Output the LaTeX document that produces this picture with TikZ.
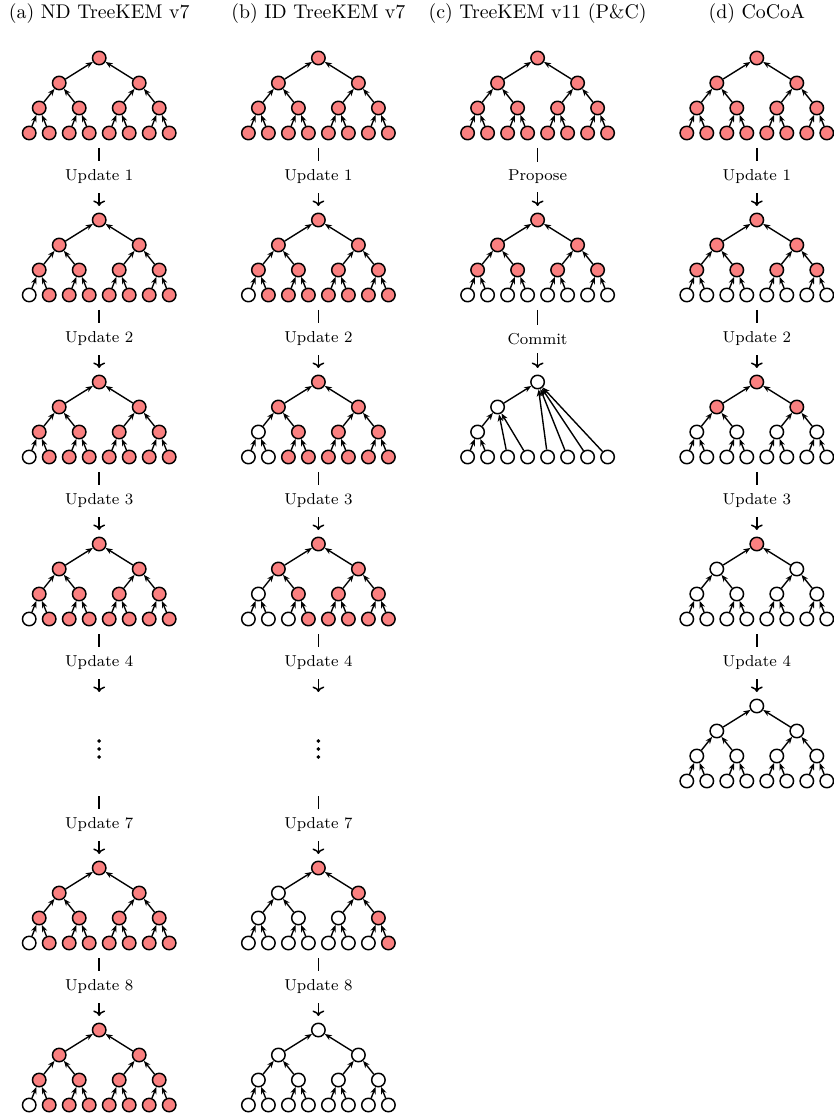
\documentclass[tikz,border=0pt]{standalone}
\usetikzlibrary{arrows.meta}
\definecolor{nodered}{RGB}{250,128,128}
\tikzset{
  tn/.style={circle, draw, line width=0.75pt, minimum size=6.8pt, inner sep=0pt},
  ed/.style={line width=0.7pt, -{Stealth[length=3.6pt,width=2.8pt]}},
  upd/.style={line width=0.75pt, -{To[length=2.8pt,width=6pt]}},
  lbl/.style={fill=white, font=\footnotesize, inner xsep=2pt, inner ysep=4.3pt},
  ttl/.style={font=\normalsize, inner sep=0pt},
  dotnode/.style={inner sep=0pt, minimum size=0pt},
}
\newcommand{\kemtree}[4]{%
  \foreach \i/\dx/\dy in {1/0/0,2/-40/25,3/40/25,4/-60/50,5/-20/50,6/20/50,7/60/50,8/-70/75,9/-50/75,10/-30/75,11/-10/75,12/10/75,13/30/75,14/50/75,15/70/75}{
    \pgfmathtruncatemacro\st{{#4}[\i-1]}
    \ifnum\st=1 \def\fc{nodered}\else\def\fc{white}\fi
    \node[tn, fill=\fc] (#1-\i) at (#2+\dx, #3+\dy) {};
  }
  \foreach \i in {2,...,15}{
    \pgfmathtruncatemacro\p{\i/2}
    \draw[ed] (#1-\i) -- (#1-\p);
  }
  \coordinate (#1-top) at (#2, #3-14);
  \coordinate (#1-bot) at (#2, #3+90);
}
\newcommand{\vdotsat}[3]{% name, x, y
  \node[dotnode] (#1) at (#2,#3) {};
  \foreach \o in {-8,0,8}{\fill ([yshift=-\o*0.505pt]#1) circle (1.0pt);}
  \coordinate (#1-top) at (#2,692);
  \coordinate (#1-bot) at (#2,796);
}
\begin{document}
\begin{tikzpicture}[x=0.505pt, y=-0.505pt]
\useasboundingbox (0,0) rectangle (833,1114);
% titles
\node[ttl] (ta) at (99.2,14) {(a) ND TreeKEM v7};
\node[ttl] (tb) at (318.4,14) {(b) ID TreeKEM v7};
\node[ttl] (tc) at (537.6,14) {(c) TreeKEM v11 (P\&C)};
\node[ttl] (td) at (756.8,14) {(d) CoCoA};

% ---------- column a ----------
\kemtree{a0}{99.2}{58}{1,1,1,1,1,1,1,1,1,1,1,1,1,1,1}
\kemtree{a1}{99.2}{220}{1,1,1,1,1,1,1,0,1,1,1,1,1,1,1}
\kemtree{a2}{99.2}{382}{1,1,1,1,1,1,1,0,1,1,1,1,1,1,1}
\kemtree{a3}{99.2}{544}{1,1,1,1,1,1,1,0,1,1,1,1,1,1,1}
\vdotsat{a4}{99.2}{749}
\kemtree{a5}{99.2}{868}{1,1,1,1,1,1,1,0,1,1,1,1,1,1,1}
\kemtree{a6}{99.2}{1030}{1,1,1,1,1,1,1,0,1,1,1,1,1,1,1}
\draw[upd] (a0-bot) -- node[lbl]{Update 1} (a1-top);
\draw[upd] (a1-bot) -- node[lbl]{Update 2} (a2-top);
\draw[upd] (a2-bot) -- node[lbl]{Update 3} (a3-top);
\draw[upd] (a3-bot) -- node[lbl]{Update 4} (a4-top);
\draw[upd] (a4-bot) -- node[lbl]{Update 7} (a5-top);
\draw[upd] (a5-bot) -- node[lbl]{Update 8} (a6-top);

% ---------- column b ----------
\kemtree{b0}{318.4}{58}{1,1,1,1,1,1,1,1,1,1,1,1,1,1,1}
\kemtree{b1}{318.4}{220}{1,1,1,1,1,1,1,0,1,1,1,1,1,1,1}
\kemtree{b2}{318.4}{382}{1,1,1,0,1,1,1,0,0,1,1,1,1,1,1}
\kemtree{b3}{318.4}{544}{1,1,1,0,1,1,1,0,0,0,1,1,1,1,1}
\vdotsat{b4}{318.4}{749}
\kemtree{b5}{318.4}{868}{1,0,1,0,0,0,1,0,0,0,0,0,0,0,1}
\kemtree{b6}{318.4}{1030}{0,0,0,0,0,0,0,0,0,0,0,0,0,0,0}
\draw[upd] (b0-bot) -- node[lbl]{Update 1} (b1-top);
\draw[upd] (b1-bot) -- node[lbl]{Update 2} (b2-top);
\draw[upd] (b2-bot) -- node[lbl]{Update 3} (b3-top);
\draw[upd] (b3-bot) -- node[lbl]{Update 4} (b4-top);
\draw[upd] (b4-bot) -- node[lbl]{Update 7} (b5-top);
\draw[upd] (b5-bot) -- node[lbl]{Update 8} (b6-top);

% ---------- column c ----------
\kemtree{c0}{537.6}{58}{1,1,1,1,1,1,1,1,1,1,1,1,1,1,1}
\kemtree{c1}{537.6}{220}{1,1,1,1,1,1,1,0,0,0,0,0,0,0,0}
\foreach \i/\dx/\dy in {1/0/0,2/-40/25,4/-60/50,8/-70/75,9/-50/75,10/-30/75,11/-10/75,12/10/75,13/30/75,14/50/75,15/70/75}{
  \node[tn, fill=white] (c2-\i) at (537.6+\dx, 382+\dy) {};
}
\foreach \c/\p in {8/4,9/4,4/2,10/2,11/2,2/1,12/1,13/1,14/1,15/1}{
  \draw[ed] (c2-\c) -- (c2-\p);
}
\coordinate (c2-top) at (537.6,368);
\draw[upd] (c0-bot) -- node[lbl]{Propose} (c1-top);
\draw[upd] (c1-bot) -- node[lbl]{Commit} (c2-top);

% ---------- column d ----------
\kemtree{d0}{756.8}{58}{1,1,1,1,1,1,1,1,1,1,1,1,1,1,1}
\kemtree{d1}{756.8}{220}{1,1,1,1,1,1,1,0,0,0,0,0,0,0,0}
\kemtree{d2}{756.8}{382}{1,1,1,0,0,0,0,0,0,0,0,0,0,0,0}
\kemtree{d3}{756.8}{544}{1,0,0,0,0,0,0,0,0,0,0,0,0,0,0}
\kemtree{d4}{756.8}{706}{0,0,0,0,0,0,0,0,0,0,0,0,0,0,0}
\draw[upd] (d0-bot) -- node[lbl]{Update 1} (d1-top);
\draw[upd] (d1-bot) -- node[lbl]{Update 2} (d2-top);
\draw[upd] (d2-bot) -- node[lbl]{Update 3} (d3-top);
\draw[upd] (d3-bot) -- node[lbl]{Update 4} (d4-top);
\end{tikzpicture}
\end{document}
